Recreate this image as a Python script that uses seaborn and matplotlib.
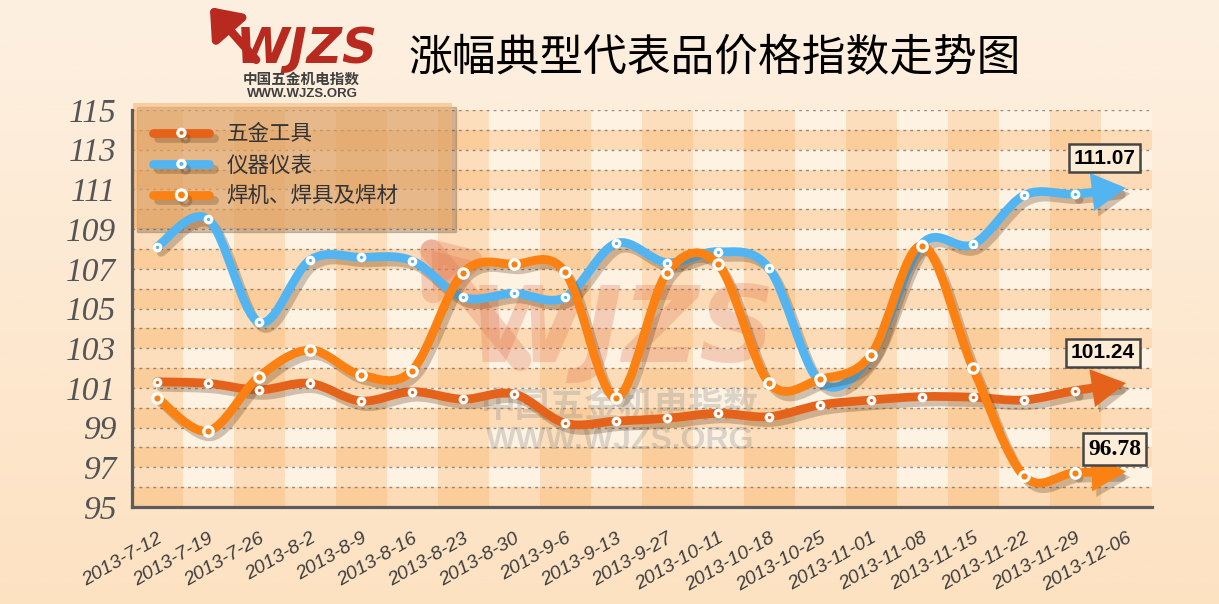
import numpy as np
import pandas as pd
import matplotlib
matplotlib.use("Agg")
import matplotlib.pyplot as plt
import seaborn as sns
from matplotlib.path import Path
from matplotlib.patches import PathPatch, FancyArrowPatch
from matplotlib.lines import Line2D
from matplotlib.colors import LinearSegmentedColormap
import matplotlib.patheffects as pe

# ---------------- data ----------------
dates = ["2013-7-12", "2013-7-19", "2013-7-26", "2013-8-2", "2013-8-9", "2013-8-16",
         "2013-8-23", "2013-8-30", "2013-9-6", "2013-9-13", "2013-9-27", "2013-10-11",
         "2013-10-18", "2013-10-25", "2013-11-01", "2013-11-08", "2013-11-15",
         "2013-11-22", "2013-11-29", "2013-12-06"]
hardware = [101.31, 101.23, 100.90, 101.23, 100.34, 100.81, 100.43, 100.70, 99.22, 99.33,
            99.47, 99.72, 99.55, 100.14, 100.39, 100.56, 100.53, 100.39, 100.86, 101.24]
instruments = [108.11, 109.50, 104.30, 107.44, 107.58, 107.41, 105.56, 105.76, 105.56, 108.28,
               107.31, 107.86, 107.02, 101.30, 102.60, 108.25, 108.23, 110.70, 110.77, 111.07]
welding = [100.51, 98.83, 101.56, 102.91, 101.65, 101.87, 106.80, 107.23, 106.85, 100.51,
           106.80, 107.24, 101.26, 101.43, 102.66, 108.16, 101.99, 96.56, 96.73, 96.78]
series_names = ["五金工具", "仪器仪表", "焊机、焊具及焊材"]
y_ticks = list(range(95, 116, 2))
title = "涨幅典型代表品价格指数走势图"

colors = ["#E5621B", "#52B5F2", "#FA8112"]
marker_sizes = [22, 22, 46]

sns.set_style("white")
plt.rcParams["font.family"] = ["Noto Sans CJK SC", "DejaVu Sans"]

W, H = 1219, 604
fig = plt.figure(figsize=(W / 100, H / 100), dpi=100)


def fp(x, y):
    """pixel (from top-left) -> figure fraction"""
    return x / W, 1 - y / H


# background gradient
bg = fig.add_axes([0, 0, 1, 1], zorder=-10)
grad = np.linspace(0, 1, 256).reshape(-1, 1)
bg.imshow(grad, aspect="auto", extent=[0, 1, 0, 1], origin="lower",
          cmap=LinearSegmentedColormap.from_list("bgc", ["#fde2c2", "#fdf0e1"]))
bg.axis("off")

# main axes
x0, x1 = 131.5, 1151.5
ytop, ybot = 110, 507
ax = fig.add_axes([x0 / W, 1 - ybot / H, (x1 - x0) / W, (ybot - ytop) / H])
ax.set_facecolor("#fef2e3")
n = len(dates)
ax.set_xlim(-0.5, n - 0.5)
ax.set_ylim(95, 115)

for k in range(95, 115, 2):
    ax.axhspan(k, k + 1, color="#f8a850", alpha=0.30, lw=0, zorder=0.1)
for i in range(0, n, 2):
    ax.axvspan(i - 0.5, i + 0.5, color="#f8a850", alpha=0.26, lw=0, zorder=0.2)

ax.set_axisbelow(True)
ax.set_yticks(y_ticks)
ax.set_yticks(range(95, 116), minor=True)
ax.yaxis.grid(True, which="both", ls=(0, (2, 3)), color="#7a6a5c", lw=1.0, alpha=0.75)
ax.xaxis.grid(False)

ax.set_xticks(range(n))
ax.set_xticks(np.arange(-0.5, n, 1.0), minor=True)
ax.set_xticklabels(dates, rotation=30, ha="right", va="top", rotation_mode="anchor",
                   fontsize=14, fontstyle="italic", family="Liberation Sans", color="#3d3d3d")
ax.set_yticklabels([str(v) for v in y_ticks], fontsize=24, fontstyle="italic",
                   family="Liberation Serif", color="#555555")

for side in ["top", "right"]:
    ax.spines[side].set_visible(False)
for side in ["left", "bottom"]:
    ax.spines[side].set_color("#5c5c5c")
    ax.spines[side].set_linewidth(2.3)
    ax.spines[side].set_zorder(6)
ax.tick_params(axis="y", which="major", direction="inout", length=12, width=2.3,
               color="#5c5c5c", pad=5)
ax.tick_params(axis="y", which="minor", direction="inout", length=7, width=2.0, color="#5c5c5c")
ax.tick_params(axis="x", which="major", direction="inout", length=7, width=2.0,
               color="#5c5c5c", pad=13)
ax.tick_params(axis="x", which="minor", direction="inout", length=12, width=2.3, color="#5c5c5c")

shadow_fx = [pe.SimpleLineShadow(offset=(3, -4), shadow_color="#5a3c20", alpha=0.28), pe.Normal()]


def bezier(xs, ys):
    pts = np.column_stack([xs, ys]).astype(float)
    m = len(pts)
    verts = [pts[0]]
    codes = [Path.MOVETO]
    for i in range(m - 1):
        p0 = pts[i - 1] if i > 0 else pts[i]
        p1, p2 = pts[i], pts[i + 1]
        p3 = pts[i + 2] if i + 2 < m else pts[i + 1]
        verts += [p1 + (p2 - p0) / 6.0, p2 - (p3 - p1) / 6.0, p2]
        codes += [Path.CURVE4] * 3
    return np.array(verts), codes


xs = np.arange(n)
all_series = [hardware, instruments, welding]
for idx, (vals, c) in enumerate(zip(all_series, colors)):
    verts, codes = bezier(xs, vals)
    nb = 1 + 3 * (n - 2)
    body = PathPatch(Path(verts[:nb], codes[:nb]), fill=False, ec=c, lw=6.3,
                     capstyle="round", joinstyle="round", zorder=3 + idx * 0.1,
                     path_effects=shadow_fx)
    ax.add_patch(body)
    last = Path(verts[nb - 1:], [Path.MOVETO] + [Path.CURVE4] * 3)
    arr = FancyArrowPatch(path=last, arrowstyle="-|>,head_length=0.75,head_width=0.42",
                          mutation_scale=20, color=c, lw=6.3, joinstyle="miter",
                          zorder=3 + idx * 0.1, path_effects=shadow_fx)
    ax.add_patch(arr)
    df = pd.DataFrame({"x": xs[:-1], "y": vals[:-1]})
    sns.scatterplot(data=df, x="x", y="y", s=marker_sizes[idx], color=c, edgecolor="white",
                    linewidth=2.3, zorder=4 + idx * 0.1, ax=ax, legend=False, clip_on=False)
ax.set_xlabel("")
ax.set_ylabel("")

# end value labels
end_specs = [(instruments[-1], 18.57, 1.5, "Liberation Sans", 15),
             (hardware[-1], 18.55, 1.52, "Liberation Sans", 15),
             (welding[-1], 18.78, 1.14, "Liberation Serif", 17)]
for v, xpos, dy, fam, fs in end_specs:
    ax.text(xpos, v + dy, f"{v:.2f}", ha="center", va="center", fontsize=fs, fontweight="bold",
            family=fam, color="black", zorder=7,
            bbox=dict(boxstyle="square,pad=0.22", fc="#fdecd6", ec="#454545", lw=1.8))

# legend
handles = [Line2D([0], [0], color=c, lw=6.3, marker="o", markersize=np.sqrt(s) + 0.5,
                  markerfacecolor=c, markeredgecolor="white", markeredgewidth=2.3,
                  solid_capstyle="round", path_effects=shadow_fx)
           for c, s in zip(colors, marker_sizes)]
leg = ax.legend(handles, series_names, loc="upper left",
                bbox_to_anchor=(133 / W, 1 - 103 / H, 319 / W, 0.0001),
                bbox_transform=fig.transFigure, mode="expand", borderaxespad=0,
                prop={"family": ["Noto Sans CJK SC", "DejaVu Sans"], "size": 15.5},
                labelcolor="#333333", handlelength=2.6, handletextpad=0.8,
                labelspacing=0.42, borderpad=0.95, frameon=True, fancybox=False,
                facecolor="#f8b470", edgecolor="none", framealpha=0.55,
                shadow={"ox": 3, "oy": -3, "color": "#6b4a2a", "alpha": 0.3})
leg.set_zorder(2.5)

# watermark (behind lines)
wm_c = "#e07a55"
ax.annotate("", xy=fp(418, 234), xytext=fp(522, 362), xycoords=fig.transFigure,
            textcoords=fig.transFigure, zorder=1.5,
            arrowprops=dict(arrowstyle="-|>,head_length=1.2,head_width=0.9", color=wm_c,
                            alpha=0.3, lw=16, mutation_scale=20))
ax.text(*fp(468, 362), "WJZS", transform=fig.transFigure, fontsize=76, fontweight="bold",
        fontstyle="italic", family="DejaVu Sans", color=wm_c, alpha=0.3, ha="left",
        va="baseline", zorder=1.5, clip_on=False)
ax.text(*fp(620, 406), "中国五金机电指数", transform=fig.transFigure, fontsize=25,
        fontweight="bold", color="#8a8a8a", alpha=0.3, ha="center", va="center", zorder=1.5)
ax.text(*fp(620, 441), "WWW.WJZS.ORG", transform=fig.transFigure, fontsize=23,
        fontweight="bold", family="Liberation Sans", color="#8a8a8a", alpha=0.3,
        ha="center", va="center", zorder=1.5)

# logo
logo_c = "#b8291f"
fig.add_artist(FancyArrowPatch(fp(258, 62), fp(208, 5), transform=fig.transFigure,
                               arrowstyle="-|>,head_length=0.9,head_width=0.7",
                               mutation_scale=18, color=logo_c, lw=6))
fig.text(*fp(236, 63), "WJZS", fontsize=35, fontweight="bold", fontstyle="italic",
         family="DejaVu Sans", color=logo_c, ha="left", va="baseline")
fig.text(*fp(301, 79), "中国五金机电指数", fontsize=10.5, fontweight="bold", color="#404040",
         ha="center", va="center")
fig.text(*fp(302, 94), "WWW.WJZS.ORG", fontsize=9.5, fontweight="bold",
         family="Liberation Sans", color="#404040", ha="center", va="center")

# title
fig.text(*fp(715, 58), title, fontsize=31.5, color="black", ha="center", va="center",
         fontweight="medium")

fig.savefig("out.png", dpi=100)
